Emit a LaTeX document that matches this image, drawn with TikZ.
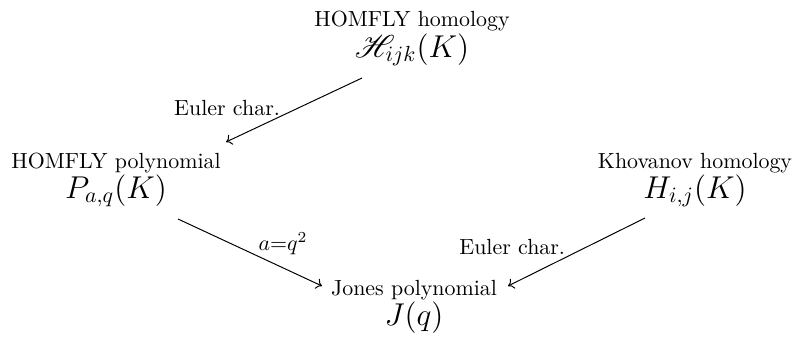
\documentclass[tikz,border=0pt]{standalone}
\usepackage{amsmath}
\usepackage{amssymb}
\usepackage{mathrsfs}
\usetikzlibrary{arrows.meta}

\begin{document}
\begin{tikzpicture}[x=0.4566pt, y=-0.4566pt,
  cellname/.style={anchor=base, inner sep=0pt},
  cellform/.style={anchor=base, inner sep=0pt, font=\Large},
  maplbl/.style={inner sep=0pt},
  map/.style={-{Computer Modern Rightarrow[length=2.6pt, width=5pt]}, line width=0.45pt}
]
\useasboundingbox (0,0) rectangle (793,345);

% Top: HOMFLY homology
\node[cellname] (homhlbl) at (412,27) {HOMFLY homology};
\node[cellform] (homh) at (412,57) {$\mathscr{H}_{ijk}(K)$};

% Middle row
\node[cellname] (homplbl) at (116,168) {HOMFLY polynomial};
\node[cellform] (homp) at (116,198) {$P_{a,q}(K)$};

\node[cellname] (khovlbl) at (695,168) {Khovanov homology};
\node[cellform] (khov) at (695,198) {$H_{i,j}(K)$};

% Bottom: Jones
\node[cellname] (joneslbl) at (414,295) {Jones polynomial};
\node[cellform] (jones) at (414,325) {$J(q)$};

% Arrows
\draw[map] ([shift={(-50,21)}]homh.base) -- node[maplbl, pos=0.6, anchor=base east, yshift=0.5pt] (eul1) {Euler char.} ([shift={(110,-26)}]homplbl.base);
\draw[map] ([shift={(62,21)}]homp.base) -- node[maplbl, pos=0.556, anchor=base west, yshift=2.7pt] (spec) {$a{=}q^2$} ([shift={(-92,-9)}]joneslbl.base);
\draw[map] ([shift={(-50,20)}]khov.base) -- node[maplbl, pos=0.58, anchor=base east, yshift=1.2pt] (eul2) {Euler char.} ([shift={(94,-9)}]joneslbl.base);

\end{tikzpicture}
\end{document}
